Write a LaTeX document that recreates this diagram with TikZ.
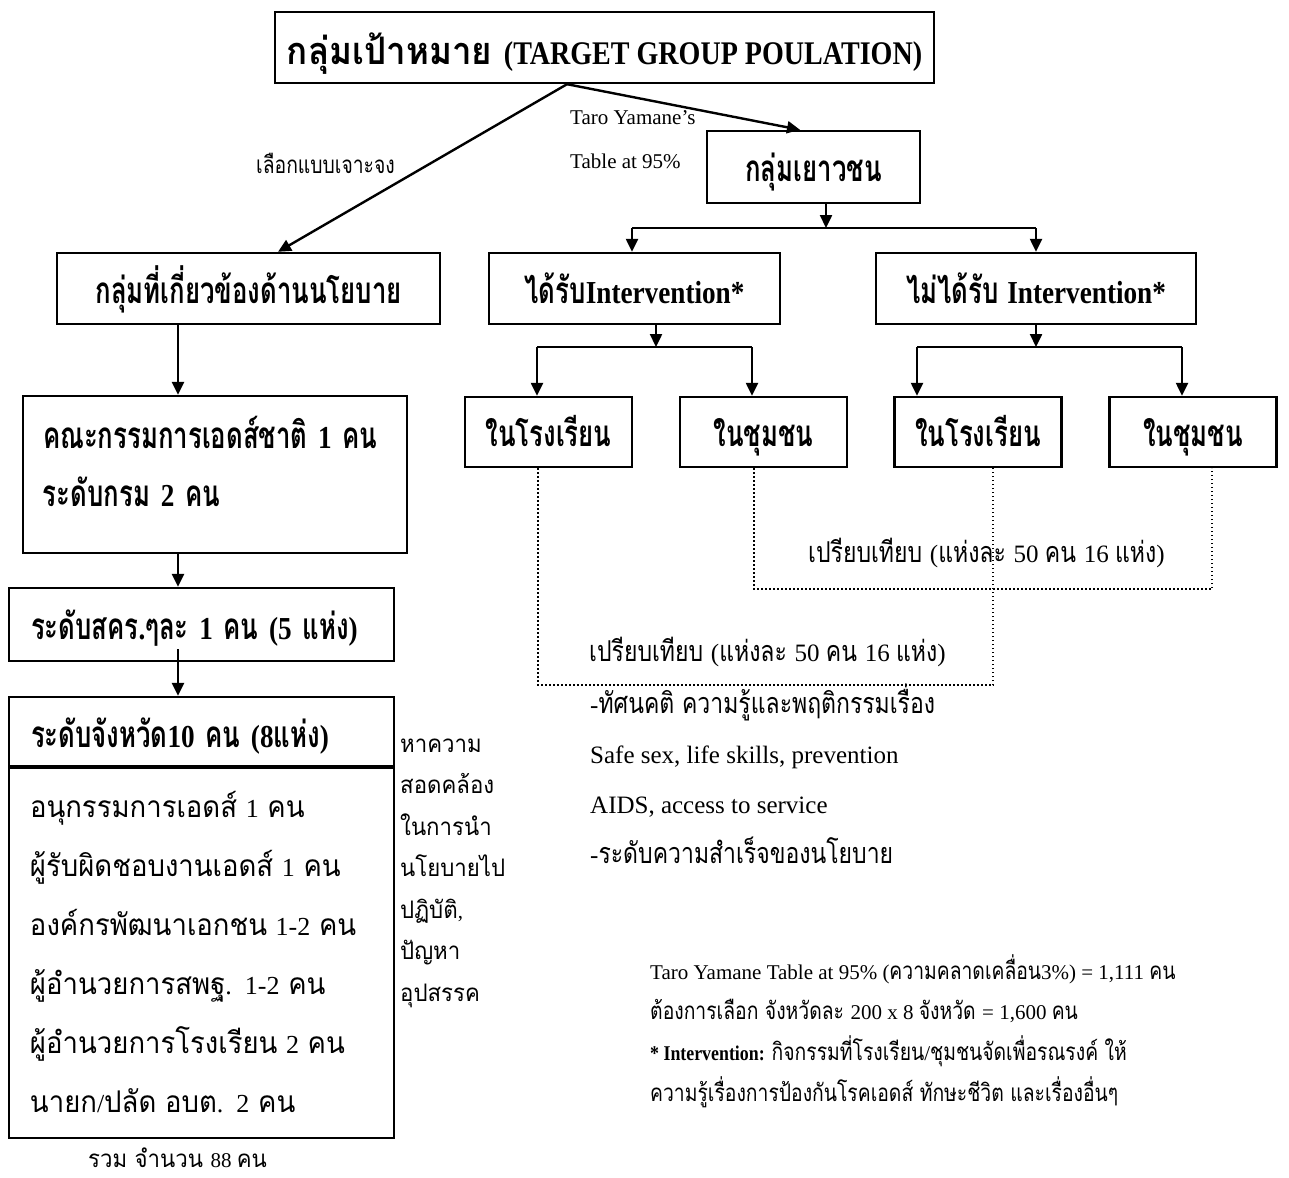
\documentclass[tikz,border=0pt]{standalone}
\usepackage{fontspec}
\setmainfont{Liberation Serif}[BoldFeatures={FakeStretch=0.85}]
\newfontfamily\thaicond{Loma}[Script=Thai,Scale=1.15,FakeStretch=0.7]
\newfontfamily\thaimed{Loma}[Script=Thai,Scale=1.15,FakeStretch=0.8]
\newfontfamily\thaiwide{Loma}[Script=Thai,Scale=1.15,FakeStretch=0.92]
\newcommand\thaicur{\thaimed}
\usetikzlibrary{arrows.meta,positioning}

% Thai letters switch to the Thai font by themselves
\newXeTeXintercharclass\thaiclass
\newcount\thaichar
\thaichar="0E00
\loop
  \XeTeXcharclass\thaichar=\thaiclass
  \advance\thaichar by 1
\ifnum\thaichar<"0E80 \repeat
\XeTeXinterchartoks 0 \thaiclass={\thaicur}
\XeTeXinterchartoks 4095 \thaiclass={\thaicur}
\XeTeXinterchartoks \thaiclass 0={\rmfamily}
\XeTeXinterchartoks 4095 0={\rmfamily}
\XeTeXinterchartokenstate=1

\begin{document}
\begin{tikzpicture}[x=1pt,y=-1pt]
    \useasboundingbox (0,0) rectangle (1289,1177);

    \tikzset{box/.style={draw,line width=2.4pt,inner sep=0pt,
            font=\fontsize{32}{57}\selectfont\bfseries\let\thaicur\thaicond},
        one/.style={text height=35pt,text depth=6pt},
        lbox/.style={box,align=left,inner xsep=22pt},
        note/.style={anchor=west,inner sep=0pt,align=left,font=\fontsize{21}{25}\selectfont},
        big/.style={note,font=\fontsize{25}{50}\selectfont},
        wide/.style={note,font=\fontsize{21}{41.5}\selectfont\let\thaicur\thaiwide},
        arr/.style={line width=2.4pt,-{Triangle[length=13pt,width=12pt]}},
        bar/.style={line width=2.4pt},
        cmp/.style={line width=1.6pt,dash pattern=on 1.6pt off 2.4pt}}

    \node[box,one,minimum width=659pt,minimum height=71pt,text height=37pt,text depth=2pt,
          font=\fontsize{33}{40}\selectfont\bfseries\let\thaicur\thaiwide] (target) at (604.5,47.5) {กลุ่มเป้าหมาย (TARGET GROUP POULATION)};
    \node[box,one,minimum width=213pt,minimum height=72pt] (youth) at (813.5,167) {กลุ่มเยาวชน};
    \node[box,one,minimum width=383pt,minimum height=71pt] (policy) at (248.5,288.5) {กลุ่มที่เกี่ยวข้องด้านนโยบาย};
    \node[box,one,minimum width=291pt,minimum height=71pt] (got) at (634.5,288.5) {ได้รับIntervention*};
    \node[box,one,minimum width=320pt,minimum height=71pt] (notgot) at (1036,288.5) {ไม่ได้รับ Intervention*};
    \node[box,one,minimum width=167pt,minimum height=70pt] (school1) at (548.5,432) {ในโรงเรียน};
    \node[box,one,minimum width=167pt,minimum height=70pt] (comm1) at (763.5,432) {ในชุมชน};
    \node[box,one,minimum width=167pt,minimum height=70pt] (school2) at (978,432) {ในโรงเรียน};
    \node[box,one,minimum width=167pt,minimum height=70pt] (comm2) at (1193,432) {ในชุมชน};

    \node[lbox,inner xsep=20pt,text width=344pt,minimum height=157pt,text height=20pt,text depth=73pt,
          font=\fontsize{32}{58}\selectfont\bfseries\let\thaicur\thaicond] (national) at (215,474.5)
        {\mbox{คณะกรรมการเอดส์ชาติ 1 คน}\\\mbox{ระดับกรม 2 คน}};
    \node[lbox,one,text width=341pt,minimum height=73pt] (region) at (201.5,624.5) {\mbox{ระดับสคร.ๆละ 1 คน (5 แห่ง)}};
    \node[lbox,one,text width=341pt,minimum height=71pt] (province) at (201.5,732.5) {\mbox{ระดับจังหวัด10 คน (8แห่ง)}};
    \node[lbox,inner xsep=21pt,text width=343pt,minimum height=372pt,
          font=\fontsize{26}{59}\selectfont\let\thaicur\thaiwide] (members) at (201.5,952)
        {อนุกรรมการเอดส์ 1 คน\\ผู้รับผิดชอบงานเอดส์ 1 คน\\องค์กรพัฒนาเอกชน 1-2 คน\\ผู้อำนวยการสพฐ. 1-2 คน\\ผู้อำนวยการโรงเรียน 2 คน\\นายก/ปลัด อบต. 2 คน};
    \node[wide] (aim) at (400,873)
        {หาความ\\สอดคล้อง\\ในการนำ\\นโยบายไป\\ปฏิบัติ,\\ปัญหา\\อุปสรรค};
    \node[wide] (total) at (88,1158) {รวม จำนวน 88 คน};

    \node[note] (purposive) at (256,163) {เลือกแบบเจาะจง};
    \node[note,font=\fontsize{21}{44}\selectfont] (yamane) at (570,140) {Taro Yamane’s\\Table at 95\%};
    \node[big] (cmpup) at (808,553) {เปรียบเทียบ (แห่งละ 50 คน 16 แห่ง)};
    \node[big] (cmplow) at (589,652) {เปรียบเทียบ (แห่งละ 50 คน 16 แห่ง)};
    \node[big] (outcome) at (590,774)
        {-ทัศนคติ ความรู้และพฤติกรรมเรื่อง\\Safe sex, life skills, prevention\\AIDS, access to service\\-ระดับความสำเร็จของนโยบาย};
    \node[note,font=\fontsize{21}{40.7}\selectfont] (remark) at (650,1031)
        {Taro Yamane Table at 95\% (ความคลาดเคลื่อน3\%) = 1,111 คน\\ต้องการเลือก จังหวัดละ 200 x 8 จังหวัด = 1,600 คน\\\textbf{* Intervention:} กิจกรรมที่โรงเรียน/ชุมชนจัดเพื่อรณรงค์ ให้\\ความรู้เรื่องการป้องกันโรคเอดส์ ทักษะชีวิต และเรื่องอื่นๆ};

    % sampling
    \draw[arr] ([xshift=-37.5pt]target.south) -- ([xshift=29.5pt]policy.north);
    \draw[arr] ([xshift=-37.5pt]target.south) -- ([xshift=-13.5pt]youth.north);

    \coordinate (b0l) at (632,228);
    \coordinate (b0r) at (1036,228);
    \draw[arr] ([xshift=12.5pt]youth.south) -- ([xshift=12.5pt]youth.south |- b0l);
    \draw[bar] (b0l) -- (b0r);
    \draw[arr] (b0l) -- (b0l |- got.north);
    \draw[arr] (b0r) -- (notgot.north);

    \coordinate (b1l) at (537,347);
    \coordinate (b1r) at (752,347);
    \coordinate (b2l) at (917,347);
    \coordinate (b2r) at (1182,347);
    \draw[arr] ([xshift=21.5pt]got.south) -- ([xshift=21.5pt]got.south |- b1l);
    \draw[bar] (b1l) -- (b1r);
    \draw[arr] (b1l) -- (b1l |- school1.north);
    \draw[arr] (b1r) -- (b1r |- comm1.north);
    \draw[arr] (notgot.south) -- (notgot.south |- b2l);
    \draw[bar] (b2l) -- (b2r);
    \draw[arr] (b2l) -- (b2l |- school2.north);
    \draw[arr] (b2r) -- (b2r |- comm2.north);

    \draw[arr] ([xshift=-70.5pt]policy.south) -- ([xshift=-70.5pt]policy.south |- national.north);
    \draw[arr] ([xshift=-37pt]national.south) -- ([xshift=-37pt]national.south |- region.north);
    \draw[arr] ([xshift=-23.5pt,yshift=13pt]region.south) -- ([xshift=-23.5pt]region.south |- province.north);

    % comparisons
    \draw[cmp] ([xshift=-10.5pt]school1.south) -- ++(0,217) -| ([xshift=15pt]school2.south);
    \draw[cmp] ([xshift=-9.5pt]comm1.south) -- ++(0,121) -| ([xshift=19pt]comm2.south);
\end{tikzpicture}
\end{document}
